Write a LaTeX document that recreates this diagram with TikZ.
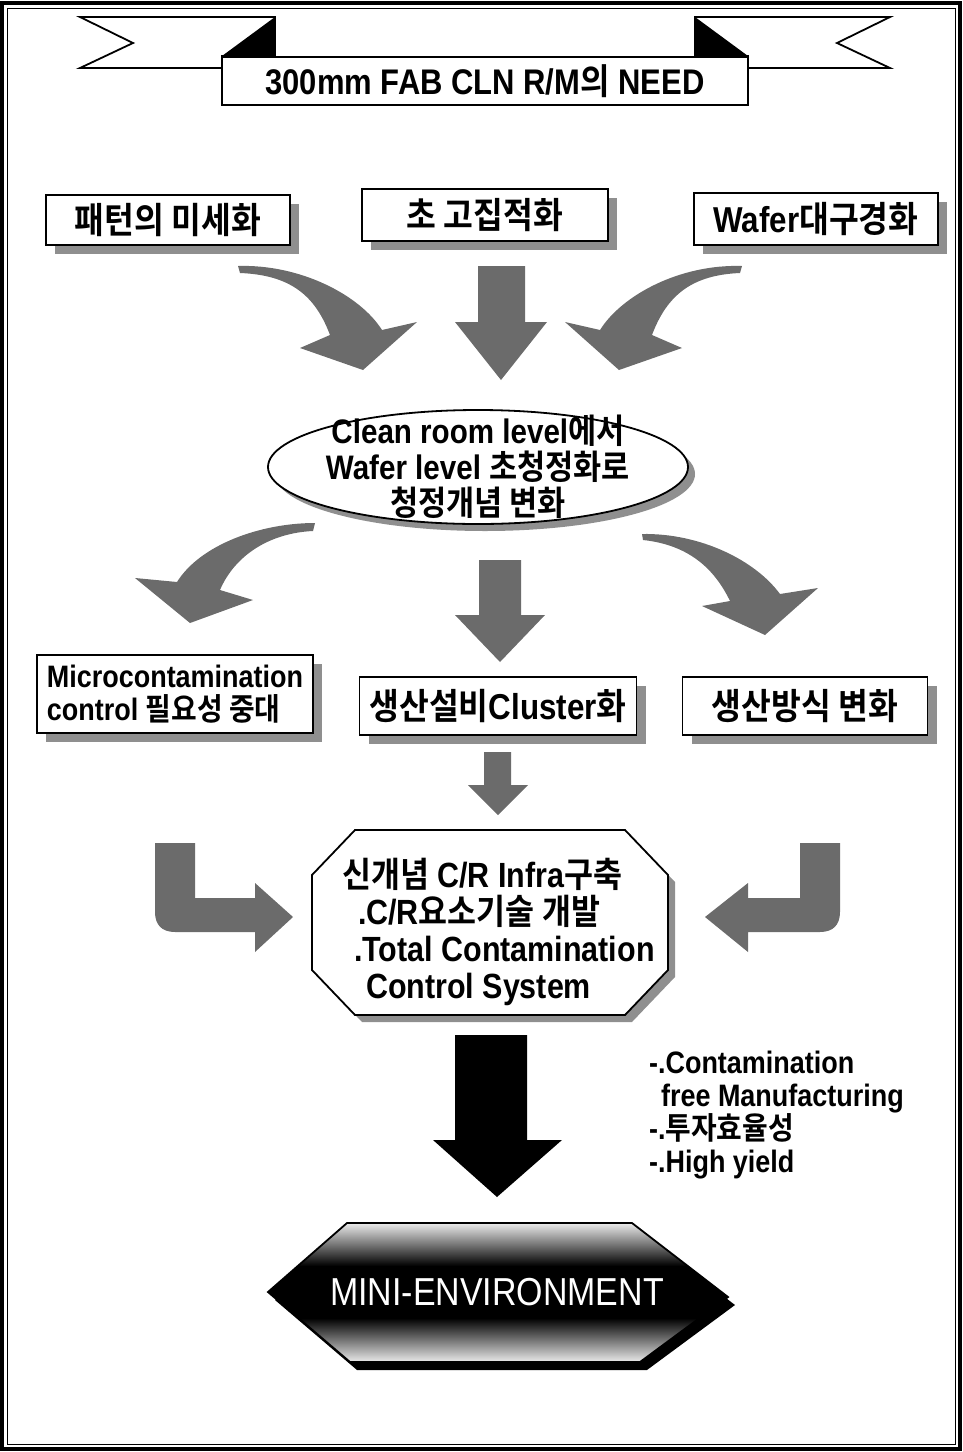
\documentclass[tikz,border=0pt]{standalone}
\usepackage{fontspec}
\setmainfont{Liberation Sans}[FakeStretch=0.87]
\newfontfamily\krfont{Noto Sans CJK KR}[FakeStretch=0.9,BoldFont={Noto Sans CJK KR Bold}]
\newcommand\kr[1]{{\krfont #1}}
\usetikzlibrary{positioning}
\usetikzlibrary{shapes.geometric}
\usetikzlibrary{shadows}
\definecolor{arrowgray}{gray}{0.42}
\definecolor{shadowgray}{gray}{0.56}
\tikzset{
	needbox/.style={draw, fill=white, line width=0.8pt, inner sep=0pt, font=\bfseries\fontsize{18}{20}\selectfont,
		drop shadow={shadow xshift=4.5pt, shadow yshift=-4.5pt, fill=shadowgray, opacity=1}},
	blockarrow/.style={fill=arrowgray},
}
\begin{document}
\begin{tikzpicture}[x=0.5pt, y=-0.5pt]
		\useasboundingbox (0,0) rectangle (963,1452);
		\draw [line width=1.6pt] (2,3) rectangle (960,1449);
		\draw [line width=0.5pt] (7,8) rectangle (955,1444);
		
		% ribbon heading
		\draw [fill=white, line width=0.9pt] (80,17) -- (275,17) -- (275,56) -- (222,56) -- (222,68) -- (80,68) -- (133,43) -- cycle;
		\fill (275,17) -- (275,56) -- (222,56) -- cycle;
		\draw [fill=white, line width=0.9pt] (890,17) -- (695,17) -- (695,56) -- (748,56) -- (748,68) -- (890,68) -- (837,43) -- cycle;
		\fill (695,17) -- (695,56) -- (748,56) -- cycle;
		\node [draw, fill=white, line width=0.9pt, minimum width=263pt, minimum height=24pt, font=\bfseries\fontsize{17.8}{20}\selectfont] (need) at (485,81) {300mm FAB CLN R/M\kr{의} NEED};
		
		\node [needbox, minimum width=122pt, minimum height=25pt] (pattern) at (168,220) {\kr{패턴의 미세화}};
		\node [needbox, minimum width=123pt, minimum height=26pt] (integ) at (485,215) {\kr{초 고집적화}};
		\node [needbox, minimum width=122pt, minimum height=26pt] (wafer) at (816,219) {Wafer\kr{대구경화}};
		
		\fill [blockarrow] (238,266) .. controls (300,264) and (360,295) .. (382,330) -- (417,322) -- (363,370) -- (300,348) -- (330,335) .. controls (315,295) and (290,275) .. (240,273) -- cycle;
		\fill [blockarrow] (478,266) -- (525,266) -- (525,322) -- (547,322) -- (501,380) -- (455,322) -- (478,322) -- cycle;
		\fill [blockarrow] (742,266) .. controls (680,264) and (622,295) .. (600,330) -- (565,322) -- (619,370) -- (682,348) -- (652,335) .. controls (667,295) and (692,275) .. (740,273) -- cycle;
		
		\fill [blockarrow] (315,523) .. controls (260,523) and (200,545) .. (177,582) -- (135,578) -- (190,623) -- (253,600) -- (220,590) .. controls (235,555) and (270,533) .. (313,531) -- cycle;
		\fill [blockarrow] (479,560) -- (521,560) -- (521,615) -- (545,615) -- (500,662) -- (455,615) -- (479,615) -- cycle;
		\fill [blockarrow] (642,534) .. controls (700,533) and (755,560) .. (780,594) -- (818,588) -- (765,635) -- (702,606) -- (730,601) .. controls (715,570) and (690,545) .. (643,540) -- cycle;
		
		\node [ellipse, draw, fill=white, line width=0.9pt, minimum width=210pt, minimum height=57pt, inner sep=0pt,
			drop shadow={shadow xshift=3.5pt, shadow yshift=-3.5pt, fill=shadowgray, opacity=1}] (concept) at (478,467) {};
		\node [align=center, font=\bfseries\fontsize{17}{18}\selectfont] (concepttext) at (concept.center) {Clean room level\kr{에서}\\Wafer level \kr{초청정화로}\\\kr{청정개념 변화}};
		
		\node [needbox, minimum width=138pt, minimum height=39pt, align=left, font=\bfseries\fontsize{15.5}{16.5}\selectfont] (micro) at (175,694) {Microcontamination\\control \kr{필요성 중대}};
		\node [needbox, minimum width=138.5pt, minimum height=29pt] (cluster) at (498,706) {\kr{생산설비}Cluster\kr{화}};
		\node [needbox, minimum width=122.5pt, minimum height=29pt] (method) at (805,706) {\kr{생산방식 변화}};
		
		\fill [blockarrow] (484,752) -- (511,752) -- (511,785) -- (528,785) -- (498,815) -- (468,785) -- (484,785) -- cycle;
		\fill [blockarrow] (155,843) -- (195,843) -- (195,898) -- (255,898) -- (255,883) -- (293,917) -- (255,952) -- (255,932) -- (175,932) .. controls (162,932) and (155,925) .. (155,912) -- cycle;
		\fill [blockarrow] (840,843) -- (800,843) -- (800,898) -- (748,898) -- (748,883) -- (705,917) -- (748,952) -- (748,932) -- (820,932) .. controls (833,932) and (840,925) .. (840,912) -- cycle;
		
		% octagon
		\draw [fill=white, line width=0.9pt, drop shadow={shadow xshift=3.5pt, shadow yshift=-3.5pt, fill=shadowgray, opacity=1}]
			(355,830) -- (625,830) -- (668,875) -- (668,970) -- (625,1015) -- (355,1015) -- (312,970) -- (312,875) -- cycle;
		\node [align=left, anchor=west, font=\bfseries\fontsize{17.5}{18.5}\selectfont] (infra) at (335,932) {\kr{신개념} C/R Infra\kr{구축}\\\hspace*{8pt}.C/R\kr{요소기술 개발}\\\hspace*{6pt}.Total Contamination\\\hspace*{12pt}Control System};
		
		\fill (455,1035) -- (527,1035) -- (527,1140) -- (562,1140) -- (497,1197) -- (433,1140) -- (455,1140) -- cycle;
		\node [anchor=north west, align=left, font=\bfseries\fontsize{15.5}{16.5}\selectfont] (benefit) at (642,1044) {-.Contamination\\\hspace*{6pt}free Manufacturing\\-.\kr{투자효율성}\\-.High yield};
		
		% hexagon
		\fill (354,1231) -- (639,1231) -- (735,1305) -- (647,1370) -- (357,1370) -- (275,1300) -- cycle;
		\begin{scope}
			\clip (347,1223) -- (632,1223) -- (728,1297) -- (640,1362) -- (350,1362) -- (268,1292) -- cycle;
			\fill (260,1215) rectangle (740,1370);
			\shade [top color=white!92!black, bottom color=black] (260,1223) rectangle (740,1266);
			\shade [top color=black, bottom color=white!92!black] (260,1318) rectangle (740,1362);
		\end{scope}
		\draw [line width=0.9pt] (347,1223) -- (632,1223) -- (728,1297) -- (640,1362) -- (350,1362) -- (268,1292) -- cycle;
		\node [text=white, font=\fontsize{19.5}{20}\selectfont] (mini) at (497,1292) {MINI-ENVIRONMENT};
\end{tikzpicture}
\end{document}
